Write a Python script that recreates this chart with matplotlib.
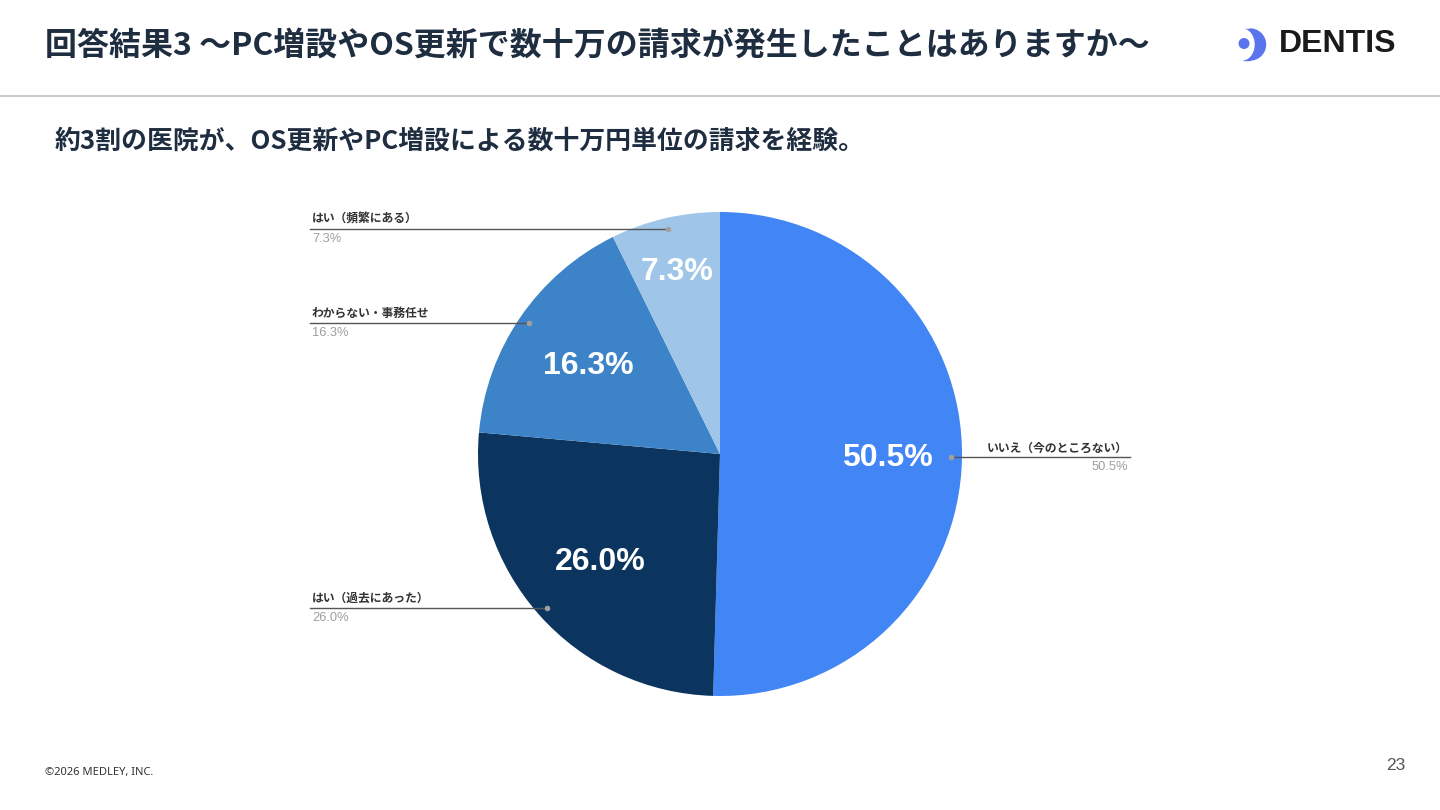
import numpy as np
import matplotlib.pyplot as plt
from matplotlib.patches import Circle, Ellipse, Wedge, Rectangle

plt.rcParams['font.family'] = ['Noto Sans CJK JP', 'DejaVu Sans']

# データ
labels = ['いいえ（今のところない）', 'はい（過去にあった）', 'わからない・事務任せ', 'はい（頻繁にある）']
values = [50.5, 26.0, 16.3, 7.3]
colors = ['#4285F4', '#0B355F', '#3D83C7', '#9FC5E8']
pct_dist = [0.69, 0.66, 0.66, 0.78]

title = '回答結果3 〜PC増設やOS更新で数十万の請求が発生したことはありますか〜'
subtitle = '約3割の医院が、OS更新やPC増設による数十万円単位の請求を経験。'

fig = plt.figure(figsize=(14.4, 8.1), dpi=100)

# 背景レイヤー（ピクセル座標）
bg = fig.add_axes([0, 0, 1, 1])
bg.set_xlim(0, 1440)
bg.set_ylim(810, 0)
bg.axis('off')

bg.text(45, 46, title, fontsize=23, fontweight='bold', color='#1E2D40', va='center')
bg.plot([0, 1440], [96, 96], color='#CCCCCC', lw=1.5)
bg.text(55, 141, subtitle, fontsize=18.6, fontweight='bold', color='#1E2D40', va='center')

# ロゴ
logo_c = '#5B74EE'
bg.add_patch(Wedge((1250, 44.5), 15.5, -90, 90, color=logo_c))
bg.add_patch(Rectangle((1243, 29), 7, 31, color=logo_c))
bg.add_patch(Ellipse((1242, 44.5), 24, 31, color='white'))
bg.add_patch(Circle((1244, 43.5), 4.8, color=logo_c))
bg.text(1279, 44, 'DENTIS', fontsize=23, fontweight='bold', color='#1A1A1A', va='center',
        family=['Liberation Sans'])

bg.text(45, 772, '©2026 MEDLEY, INC.', fontsize=8, color='#333333', va='center',
        family=['Noto Sans', 'DejaVu Sans'])
bg.text(1396, 766, '23', fontsize=12.5, color='#555555', va='center', ha='center',
        family=['Liberation Sans'])

# 円グラフ
cx, cy, r = 720, 454, 242
ax = fig.add_axes([(cx - 250) / 1440, (810 - cy - 250) / 810, 500 / 1440, 500 / 810])

wedges, _ = ax.pie(values, colors=colors, startangle=90, counterclock=False,
                   radius=r, wedgeprops=dict(linewidth=0))
ax.set_xlim(-250, 250)
ax.set_ylim(-250, 250)
ax.axis('off')

for i, w in enumerate(wedges):
    ang = np.deg2rad((w.theta1 + w.theta2) / 2)
    # 内側のパーセント
    d = pct_dist[i] * r
    ax.text(d * np.cos(ang), d * np.sin(ang) - 2, f'{values[i]:.1f}%', color='white',
            fontsize=23, fontweight='bold', ha='center', va='center',
            family=['Liberation Sans'])
    # 引き出し線
    px, py = 0.955 * r * np.cos(ang), 0.955 * r * np.sin(ang)
    ax.plot(px, py, 'o', ms=3, color='#A0A0A0', clip_on=False, zorder=5)
    if np.cos(ang) > 0:
        ex, ha = 1130 - cx, 'right'
    else:
        ex, ha = 310 - cx, 'left'
    ax.plot([px, ex], [py, py], color='#555555', lw=1, clip_on=False, zorder=4)
    tx = ex + (2 if ha == 'left' else -2)
    ax.text(tx, py + 3, labels[i], fontsize=8.5, fontweight='bold', color='#333333',
            ha=ha, va='bottom', clip_on=False)
    ax.text(tx, py - 4, f'{values[i]:.1f}%', fontsize=9.3, color='#9E9E9E',
            ha=ha, va='top', clip_on=False, family=['Liberation Sans'])

fig.savefig('out.png', dpi=100)
